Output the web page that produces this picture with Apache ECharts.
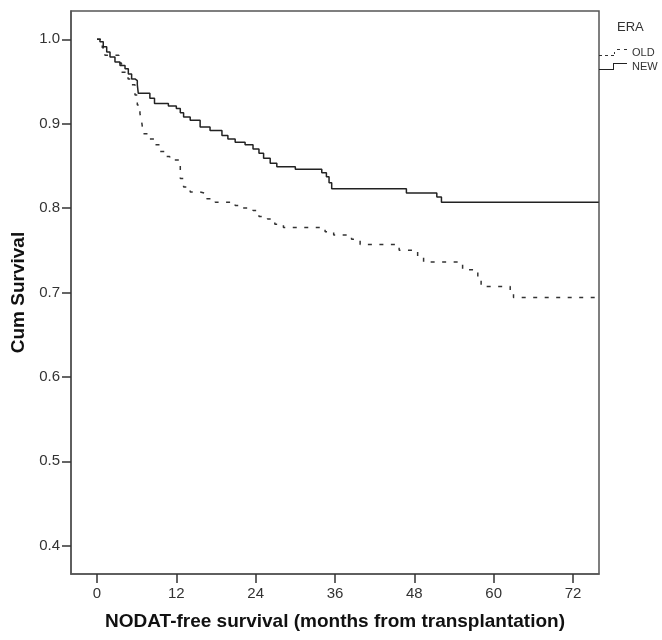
<!DOCTYPE html>
<html>
<head>
<meta charset="utf-8">
<script src="https://cdn.jsdelivr.net/npm/echarts@6/dist/echarts.min.js"></script>
<style>
html,body{margin:0;padding:0;background:#fff;}
#chart{width:662px;height:640px;}
</style>
</head>
<body>
<div id="chart"></div>
<script>
// ---- data ----
const newTimes = [0,0.45,0.95,1.47,1.97,2.72,3.48,4.24,4.74,5.24,5.75,6.1,6.25,8.0,8.7,10.8,12.0,12.6,13.1,14.1,15.6,17.1,18.9,19.8,20.9,22.4,23.6,24.5,25.2,26.2,27.2,30.0,34.0,34.7,35.1,35.5,46.8,51.4,52.1,75.9];
const newSurv  = [1.000,0.997,0.991,0.985,0.979,0.973,0.969,0.965,0.959,0.953,0.951,0.946,0.936,0.930,0.924,0.921,0.918,0.913,0.908,0.904,0.896,0.892,0.886,0.882,0.878,0.875,0.870,0.865,0.859,0.853,0.849,0.846,0.842,0.837,0.830,0.823,0.818,0.813,0.807,0.807];
const oldTimes = [0,0.8,1.2,3.3,3.7,4.7,5.2,5.75,6.1,6.5,6.8,7.0,7.8,8.8,9.5,10.4,11.0,12.6,13.1,14.1,15.6,16.6,17.9,20.9,22.1,23.6,24.5,25.8,26.9,28.2,34.5,35.8,38.5,39.8,45.7,48.5,49.4,55.3,57.6,58.1,62.5,63.0,75.9];
const oldSurv  = [1.000,0.990,0.981,0.972,0.961,0.953,0.946,0.934,0.922,0.912,0.900,0.888,0.882,0.875,0.867,0.861,0.857,0.835,0.825,0.819,0.817,0.811,0.807,0.803,0.800,0.797,0.790,0.787,0.781,0.777,0.772,0.768,0.763,0.757,0.750,0.743,0.736,0.727,0.718,0.707,0.700,0.694,0.694];
const xTicks = [0,12,24,36,48,60,72];
const yTicks = [0.4,0.5,0.6,0.7,0.8,0.9,1.0];
const seriesNames = ['OLD','NEW'];
const legendTitle = 'ERA';
const xTitle = 'NODAT-free survival (months from transplantation)';
const yTitle = 'Cum Survival';

const pairs = (t, s) => t.map((v, i) => [v, s[i]]);

const sans = '"Liberation Sans", Arial, sans-serif';
const chart = echarts.init(document.getElementById('chart'), null, {renderer: 'canvas'});
chart.setOption({
  animation: false,
  backgroundColor: '#fff',
  title: {
    text: legendTitle,
    left: 617, top: 21,
    padding: 0,
    textStyle: {fontFamily: sans, fontSize: 13, fontWeight: 'normal', color: '#333'}
  },
  legend: {
    orient: 'vertical',
    left: 599, top: 47,
    padding: 0,
    itemWidth: 28, itemHeight: 7, itemGap: 3,
    itemStyle: {borderWidth: 0},
    textStyle: {fontFamily: sans, fontSize: 11, color: '#333'},
    data: [
      {name: 'OLD', icon: 'path://M0,6H3V7H0Z M6,6H9V7H6Z M12,6H15V7H12Z M15,3H16V5H15Z M18,0H21V1H18Z M25,0H28V1H25Z'},
      {name: 'NEW', icon: 'path://M0,6H14V0H28V1H15V7H0Z'}
    ]
  },
  grid: {
    left: 71, right: 63, top: 11, bottom: 66,
    show: true, borderColor: '#555', borderWidth: 1.5,
    containLabel: false
  },
  xAxis: {
    type: 'value',
    min: -3.93, max: 75.93,
    name: xTitle,
    nameLocation: 'middle',
    nameGap: 38,
    nameTextStyle: {fontFamily: sans, fontSize: 19, fontWeight: 'bold', color: '#111'},
    axisLine: {show: true, onZero: false, lineStyle: {color: '#555', width: 1.5}},
    axisTick: {show: true, length: 9, customValues: xTicks, lineStyle: {color: '#333', width: 1.5}},
    axisLabel: {customValues: xTicks, margin: 12, fontFamily: sans, fontSize: 15, color: '#333'},
    splitLine: {show: false}
  },
  yAxis: {
    type: 'value',
    min: 0.3665, max: 1.0335,
    name: yTitle,
    nameLocation: 'middle',
    nameGap: 41,
    nameTextStyle: {fontFamily: sans, fontSize: 19, fontWeight: 'bold', color: '#111'},
    axisLine: {show: true, onZero: false, lineStyle: {color: '#555', width: 1.5}},
    axisTick: {show: true, length: 9, customValues: yTicks, lineStyle: {color: '#333', width: 1.5}},
    axisLabel: {customValues: yTicks, margin: 11, fontFamily: sans, fontSize: 15, color: '#333',
      formatter: v => v.toFixed(1)},
    splitLine: {show: false}
  },
  series: [
    {
      name: seriesNames[0], type: 'line', step: 'end', symbol: 'none',
      data: pairs(oldTimes, oldSurv),
      itemStyle: {color: '#333'},
      lineStyle: {color: '#333', width: 1.5, type: [4, 7.5]}
    },
    {
      name: seriesNames[1], type: 'line', step: 'end', symbol: 'none',
      data: pairs(newTimes, newSurv),
      itemStyle: {color: '#222'},
      lineStyle: {color: '#222', width: 1.5, type: 'solid'}
    }
  ]
});
</script>
</body>
</html>
